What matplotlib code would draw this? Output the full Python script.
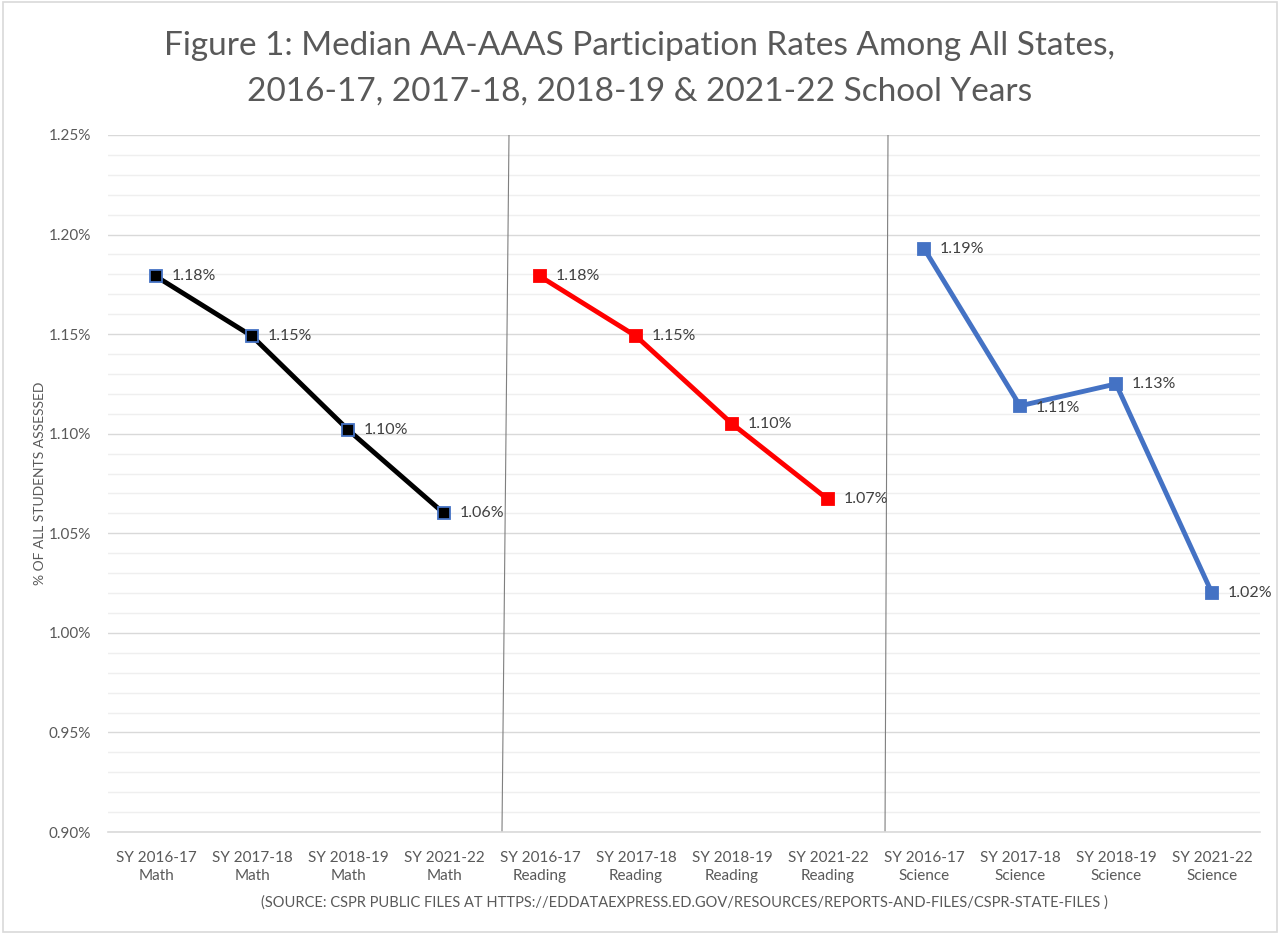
import numpy as np
import matplotlib.pyplot as plt
from matplotlib.ticker import MultipleLocator, FuncFormatter
from matplotlib.patches import Rectangle

plt.rcParams['font.family'] = ['Lato', 'DejaVu Sans']

years = ['SY 2016-17', 'SY 2017-18', 'SY 2018-19', 'SY 2021-22']
subjects = ['Math', 'Reading', 'Science']
math_vals = [1.179, 1.149, 1.102, 1.060]
reading_vals = [1.179, 1.149, 1.105, 1.067]
science_vals = [1.193, 1.114, 1.125, 1.020]
value_labels = [['1.18%', '1.15%', '1.10%', '1.06%'],
                 ['1.18%', '1.15%', '1.10%', '1.07%'],
                 ['1.19%', '1.11%', '1.13%', '1.02%']]

tick_labels = [f'{y}\n{s}' for s in subjects for y in years]

fig = plt.figure(figsize=(12.8, 9.34), dpi=100)
ax = fig.add_axes([108 / 1280, 1 - 832 / 934, 1152 / 1280, 697 / 934])

grey_txt = '#595959'
series = [
    (math_vals, 'black', 'black', '#4472C4'),
    (reading_vals, '#FF0000', '#FF0000', '#FF0000'),
    (science_vals, '#4472C4', '#4472C4', '#4472C4'),
]
for k, (vals, lc, mfc, mec) in enumerate(series):
    xs = np.arange(4) + 4 * k
    ax.plot(xs, vals, color=lc, lw=3.5, marker='s', ms=8,
            mfc=mfc, mec=mec, mew=1.3, zorder=3, solid_capstyle='round')
    for x, v, lab in zip(xs, vals, value_labels[k]):
        dy = -0.0012 if lab == '1.11%' and k == 2 else 0
        ax.annotate(lab, (x, v + dy), xytext=(11, 0), textcoords='offset points',
                    va='center', ha='left', fontsize=11.5, color='#404040')

# separators between subject groups
ax.plot([3.677, 3.604], [1.25, 0.90], color='#7f7f7f', lw=0.8, zorder=2)
ax.plot([7.625, 7.594], [1.25, 0.90], color='#7f7f7f', lw=0.8, zorder=2)

ax.set_xlim(-0.5, 11.5)
ax.set_ylim(0.90, 1.25)
ax.yaxis.set_major_locator(MultipleLocator(0.05))
ax.yaxis.set_minor_locator(MultipleLocator(0.01))
ax.yaxis.set_major_formatter(FuncFormatter(lambda v, p: f'{v:.2f}%'))
ax.grid(which='major', axis='y', color='#D9D9D9', lw=1.0, zorder=0)
ax.grid(which='minor', axis='y', color='#EFEFEF', lw=1.0, zorder=0)
ax.set_axisbelow(True)

ax.set_xticks(range(12))
ax.set_xticklabels(tick_labels, fontsize=11, color=grey_txt, linespacing=1.3)
ax.tick_params(axis='x', length=0, pad=14)
ax.tick_params(axis='y', which='both', length=0, labelsize=11, labelcolor=grey_txt, pad=12)

for s in ['top', 'right', 'left']:
    ax.spines[s].set_visible(False)
ax.spines['bottom'].set_color('#D9D9D9')
ax.spines['bottom'].set_linewidth(1.2)

ax.set_ylabel('% OF ALL STUDENTS ASSESSED', fontsize=10, color=grey_txt, labelpad=2)
ax.set_xlabel('(SOURCE: CSPR PUBLIC FILES AT HTTPS://EDDATAEXPRESS.ED.GOV/RESOURCES/REPORTS-AND-FILES/CSPR-STATE-FILES )',
              fontsize=10.5, color=grey_txt, labelpad=9)

fig.text(0.5, 1 - 69 / 934,
         'Figure 1: Median AA-AAAS Participation Rates Among All States,\n2016-17, 2017-18, 2018-19 & 2021-22 School Years',
         ha='center', va='center', fontsize=24, color=grey_txt, linespacing=1.65)

fig.patches.append(Rectangle((0.002, 0.002), 0.996, 0.996, transform=fig.transFigure,
                             fill=False, edgecolor='#D9D9D9', lw=1.2))

fig.savefig('out.png', dpi=100)
